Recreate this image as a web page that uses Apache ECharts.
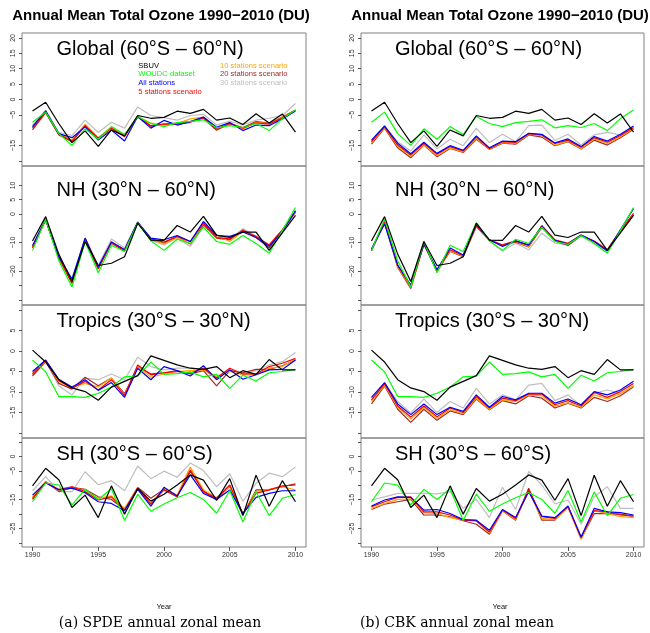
<!DOCTYPE html>
<html><head><meta charset="utf-8">
<script src="https://cdn.jsdelivr.net/npm/echarts@6/dist/echarts.min.js"></script>
<style>html,body{margin:0;padding:0;background:#fff}#c{width:650px;height:633px}</style>
</head><body><div id="c"></div>
<script>
// ---------- data ----------
const YEARS = [1990,1991,1992,1993,1994,1995,1996,1997,1998,1999,2000,2001,2002,2003,2004,2005,2006,2007,2008,2009,2010];
const SERIES_NAMES = ['SBUV','WOUDC dataset','All stations','5 stations scenario','10 stations scenario','20 stations scenario','30 stations scenario'];
const SERIES_COLORS = ['#000000','#00ff00','#0000ff','#ff0000','#ffa500','#a52a2a','#bebebe'];
const X_TICKS = [1990,1995,2000,2005,2010];

// observations (same in both columns)
const G_SBUV  = [-3.7,-0.9,-7.8,-14.0,-10.2,-15.2,-9.9,-11.8,-5.2,-6.1,-5.8,-3.8,-4.5,-3.2,-6.7,-6.0,-8.1,-4.6,-7.6,-4.7,-10.6];
const G_WOUDC = [-7.4,-4.1,-11.1,-14.9,-9.5,-12.9,-8.8,-11.4,-5.5,-7.8,-8.8,-7.5,-7.1,-6.6,-9.2,-8.5,-9.1,-7.8,-10.1,-6.2,-3.4];
const NH_SBUV  = [-9.4,-0.9,-14.0,-23.6,-9.6,-18.0,-17.2,-14.9,-3.2,-9.1,-9.2,-4.0,-6.3,-0.8,-7.4,-8.2,-6.3,-6.3,-12.7,-6.6,-0.5];
const NH_WOUDC = [-12.7,-1.8,-16.3,-25.5,-9.6,-20.5,-10.9,-13.1,-3.0,-9.3,-12.7,-8.8,-10.3,-4.6,-9.6,-10.6,-7.5,-10.3,-13.7,-5.8,2.3];
const TR_SBUV  = [0.2,-2.7,-7.0,-9.0,-9.9,-12.0,-8.8,-7.4,-6.0,-1.2,-2.3,-3.4,-4.2,-4.5,-3.8,-6.5,-4.8,-5.7,-2.1,-4.6,-4.6];
const TR_WOUDC = [-2.2,-5.1,-11.1,-11.1,-11.3,-10.3,-8.8,-6.3,-6.1,-2.7,-5.7,-5.5,-5.1,-6.3,-5.7,-9.1,-5.9,-7.3,-5.3,-5.0,-4.5];
const SH_SBUV  = [-10.2,-4.1,-8.1,-17.7,-13.4,-21.2,-10.2,-20.0,-11.1,-15.5,-13.1,-9.9,-6.4,-8.2,-15.2,-7.7,-20.5,-6.5,-17.3,-8.4,-15.7];
const SH_WOUDC = [-15.7,-9.2,-9.9,-16.8,-11.4,-14.9,-11.2,-22.2,-13.1,-19.0,-16.5,-14.3,-12.5,-14.9,-19.7,-11.8,-22.7,-12.3,-20.5,-14.5,-13.2];

// SPDE
const S_G_ALL = [-8.8,-3.7,-11.1,-12.4,-8.9,-13.2,-9.9,-13.5,-5.5,-9.3,-6.8,-8.3,-7.2,-5.7,-9.0,-7.5,-10.1,-8.3,-8.5,-6.3,-3.7];
const S_G_S5  = [-9.3,-4.1,-11.3,-13.5,-8.5,-12.6,-9.3,-12.1,-5.5,-8.5,-8.0,-8.0,-7.4,-5.9,-9.6,-7.8,-9.3,-7.6,-8.0,-5.9,-3.5];
const S_G_S10 = [-9.1,-3.9,-11.0,-13.2,-8.0,-12.4,-8.9,-11.5,-5.5,-7.7,-8.3,-7.8,-6.3,-5.7,-9.3,-7.4,-9.6,-7.4,-7.8,-5.7,-3.5];
const S_G_S20 = [-9.9,-4.3,-11.5,-13.7,-8.5,-12.8,-9.1,-11.7,-5.7,-8.7,-8.0,-7.7,-7.2,-6.1,-10.0,-7.9,-9.1,-7.2,-7.7,-5.7,-3.4];
const S_G_S30 = [-8.3,-3.5,-10.7,-11.7,-6.7,-10.7,-7.4,-9.3,-2.4,-5.2,-5.9,-6.7,-5.2,-4.8,-8.3,-7.0,-8.3,-6.7,-6.1,-5.2,-1.3];

const S_NH_ALL = [-11.0,-2.0,-14.9,-22.7,-8.4,-18.4,-9.8,-12.5,-2.8,-8.4,-9.0,-7.5,-9.6,-2.6,-7.5,-7.8,-6.3,-8.2,-11.3,-6.1,1.2];
const S_NH_S5  = [-11.7,-2.1,-15.2,-24.2,-8.7,-19.0,-10.2,-12.9,-3.0,-8.7,-9.8,-7.8,-9.6,-3.2,-8.2,-8.7,-5.8,-7.8,-10.8,-5.5,0.9];
const S_NH_S10 = [-11.5,-1.9,-15.4,-23.6,-8.4,-18.7,-9.6,-12.6,-2.9,-8.7,-10.5,-8.2,-10.2,-3.2,-7.5,-9.6,-6.1,-8.2,-10.8,-5.5,0.9];
const S_NH_S20 = [-11.9,-2.0,-15.4,-24.2,-9.0,-19.2,-9.8,-12.5,-3.0,-9.0,-10.2,-7.8,-10.5,-3.7,-8.4,-9.0,-5.6,-8.2,-11.9,-5.8,0.7];
const S_NH_S30 = [-11.3,-1.6,-15.0,-23.6,-8.4,-18.0,-8.7,-11.9,-2.8,-9.1,-10.8,-8.4,-11.3,-4.3,-7.5,-8.7,-5.1,-7.8,-11.7,-5.8,0.7];

const S_TR_ALL = [-5.0,-2.2,-6.9,-8.8,-7.0,-9.6,-7.7,-11.3,-4.2,-7.0,-3.8,-4.8,-6.1,-3.6,-7.0,-4.6,-6.9,-5.8,-4.6,-4.5,-2.2];
const S_TR_S5  = [-5.6,-2.3,-7.2,-9.1,-7.4,-9.5,-7.0,-10.9,-3.4,-5.8,-5.3,-5.0,-5.4,-4.2,-6.6,-4.2,-5.6,-5.6,-3.8,-3.0,-1.8];
const S_TR_S10 = [-5.4,-2.5,-7.4,-8.8,-7.9,-8.8,-6.6,-10.7,-3.8,-6.4,-5.6,-5.0,-4.8,-4.6,-6.2,-5.0,-5.8,-5.8,-4.2,-3.8,-2.0];
const S_TR_S20 = [-6.1,-2.6,-7.9,-9.3,-6.4,-8.5,-6.6,-10.4,-3.8,-5.6,-5.3,-4.8,-5.6,-4.8,-8.5,-4.8,-5.3,-4.5,-4.5,-3.6,-2.2];
const S_TR_S30 = [-5.8,-2.3,-8.5,-10.7,-6.6,-7.0,-5.6,-7.0,-1.5,-3.8,-4.6,-4.2,-4.2,-4.5,-6.9,-4.6,-5.8,-4.8,-3.4,-2.6,-0.4];

const S_SH_ALL = [-13.4,-9.1,-11.6,-11.0,-12.6,-15.7,-16.3,-18.8,-11.4,-17.2,-10.7,-13.7,-6.4,-12.8,-14.9,-11.6,-19.8,-14.2,-12.8,-11.9,-11.9];
const S_SH_S5  = [-14.5,-9.1,-11.4,-10.5,-12.2,-15.1,-14.0,-18.6,-11.0,-16.5,-11.6,-14.0,-4.7,-12.2,-14.5,-9.9,-19.8,-12.8,-11.6,-10.2,-9.9];
const S_SH_S10 = [-14.0,-8.7,-11.9,-10.5,-11.9,-14.5,-13.7,-18.0,-10.8,-16.3,-11.0,-13.4,-3.7,-11.6,-14.2,-10.5,-20.0,-12.2,-11.4,-10.5,-11.6];
const S_SH_S20 = [-14.9,-8.7,-12.2,-10.7,-11.4,-14.0,-14.9,-18.4,-10.7,-14.5,-11.4,-14.0,-5.2,-11.9,-15.1,-10.2,-20.3,-11.6,-11.6,-10.5,-9.5];
const S_SH_S30 = [-11.9,-7.0,-12.2,-12.2,-5.3,-9.8,-8.4,-11.9,-3.3,-7.7,-5.1,-7.2,-2.3,-4.9,-10.5,-6.0,-15.5,-9.3,-5.8,-7.0,-3.7];

// CBK
const C_G_ALL = [-13.2,-8.6,-14.2,-17.6,-13.9,-17.5,-15.0,-16.5,-11.8,-15.7,-13.5,-13.7,-11.0,-11.3,-14.1,-12.8,-15.3,-12.0,-13.5,-11.3,-8.6];
const C_G_S5  = [-13.7,-8.9,-14.8,-18.0,-14.2,-17.8,-15.3,-16.7,-12.2,-15.9,-13.7,-13.9,-11.1,-11.5,-14.3,-13.2,-15.5,-12.4,-13.9,-11.7,-9.1];
const C_G_S10 = [-14.1,-9.1,-15.2,-18.4,-14.6,-18.3,-15.7,-17.0,-12.6,-16.1,-14.0,-14.2,-11.3,-11.7,-14.8,-13.5,-15.9,-12.8,-14.3,-12.1,-9.3];
const C_G_S20 = [-14.5,-9.3,-15.7,-18.9,-14.8,-18.6,-15.9,-17.2,-12.9,-16.2,-14.2,-14.5,-11.5,-12.2,-15.0,-13.7,-16.1,-13.2,-14.8,-12.4,-9.7];
const C_G_S30 = [-13.5,-8.9,-13.7,-16.7,-11.5,-16.1,-12.9,-15.0,-9.3,-14.0,-11.3,-13.7,-8.5,-8.3,-13.3,-11.3,-14.8,-11.5,-10.7,-11.5,-9.3];

const C_NH_ALL = [-12.2,-3.5,-17.8,-24.8,-10.5,-19.5,-11.9,-14.3,-3.7,-9.0,-11.3,-9.4,-10.8,-4.3,-9.2,-10.5,-7.3,-9.6,-12.9,-5.5,1.9];
const C_NH_S5  = [-12.5,-2.6,-18.0,-25.4,-10.5,-19.9,-12.5,-14.5,-4.0,-9.0,-10.8,-9.4,-11.0,-4.0,-9.0,-10.2,-7.3,-9.4,-12.5,-5.8,0.2];
const C_NH_S10 = [-12.5,-2.6,-18.4,-25.7,-10.5,-19.9,-12.9,-14.7,-4.2,-9.1,-11.0,-9.6,-11.3,-4.3,-9.2,-10.5,-7.5,-9.6,-12.5,-5.8,0.0];
const C_NH_S20 = [-12.9,-2.8,-18.7,-26.0,-10.5,-20.1,-13.1,-14.9,-4.4,-9.1,-10.8,-9.8,-11.5,-4.7,-9.4,-11.0,-7.5,-9.6,-12.5,-5.8,-0.2];
const C_NH_S30 = [-12.5,-3.2,-17.8,-26.2,-10.5,-19.2,-12.9,-14.9,-4.4,-9.4,-12.9,-10.2,-12.5,-6.7,-10.2,-10.8,-7.8,-10.2,-12.9,-6.1,-0.2];

const C_TR_ALL = [-11.3,-7.7,-12.9,-15.5,-12.9,-15.5,-13.7,-14.7,-10.7,-13.7,-11.1,-11.9,-10.3,-10.3,-12.7,-11.7,-13.1,-9.9,-10.7,-9.5,-7.4];
const C_TR_S5  = [-11.9,-8.0,-13.4,-16.1,-13.4,-16.0,-13.9,-15.0,-11.1,-13.9,-11.5,-12.1,-10.5,-10.5,-13.1,-12.1,-13.4,-10.1,-11.3,-9.9,-7.9];
const C_TR_S10 = [-12.3,-8.3,-13.7,-16.6,-13.7,-16.4,-14.3,-15.3,-11.5,-14.2,-11.9,-12.3,-10.7,-10.9,-13.5,-12.6,-13.7,-10.7,-11.7,-10.4,-8.5];
const C_TR_S20 = [-12.9,-8.5,-14.2,-17.4,-14.2,-16.9,-14.6,-15.5,-11.7,-14.3,-12.1,-12.9,-10.9,-11.5,-13.9,-12.7,-13.9,-11.3,-12.3,-10.9,-8.7];
const C_TR_S30 = [-11.5,-7.9,-12.3,-15.1,-11.7,-15.0,-12.3,-13.9,-9.1,-12.9,-10.7,-11.9,-8.3,-7.9,-12.1,-10.7,-13.4,-10.3,-9.5,-10.3,-8.5];

const C_SH_ALL = [-17.2,-15.1,-14.0,-14.2,-18.6,-18.4,-19.8,-21.9,-22.1,-25.6,-18.4,-21.2,-12.2,-20.7,-21.2,-17.2,-27.9,-18.0,-19.2,-19.5,-20.3];
const C_SH_S5  = [-17.4,-15.7,-14.2,-14.0,-19.2,-19.2,-20.3,-22.1,-22.3,-26.2,-18.6,-21.5,-11.4,-20.9,-21.5,-17.4,-28.1,-18.8,-19.2,-20.3,-20.7];
const C_SH_S10 = [-18.0,-16.3,-14.9,-14.7,-19.5,-19.8,-21.2,-22.1,-22.4,-26.5,-18.8,-21.9,-11.9,-21.5,-21.9,-17.7,-28.8,-18.8,-19.8,-20.9,-21.2];
const C_SH_S20 = [-18.4,-16.5,-15.7,-14.9,-20.3,-20.3,-20.9,-22.3,-23.5,-27.0,-18.8,-22.1,-11.0,-22.1,-22.1,-17.4,-28.5,-19.8,-19.8,-20.0,-20.7];
const C_SH_S30 = [-15.1,-14.0,-12.8,-12.8,-12.8,-13.0,-12.2,-18.0,-14.9,-21.2,-10.7,-18.4,-5.2,-9.9,-16.5,-15.1,-23.5,-14.0,-10.5,-18.0,-18.0];

// panel definitions: region label, y tick values, y label values
const REGION_LABELS = ['Global (60°S – 60°N)','NH (30°N – 60°N)','Tropics (30°S – 30°N)','SH (30°S – 60°S)'];
const Y_TICKS = [
  [-20,-15,-10,-5,0,5,10,15,20],
  [-30,-25,-20,-15,-10,-5,0,5,10],
  [-20,-15,-10,-5,0,5,10],
  [-30,-25,-20,-15,-10,-5,0,5]
];
const Y_LABELS = [
  [-15,-5,0,5,10,15,20],
  [-20,-10,0,5,10],
  [-15,-10,-5,0,5],
  [-25,-15,-5,0]
];
const Y_RANGE = [[-21.6,21.6],[-31.8,16.8],[-21.2,11.2],[-31.4,6.4]];

const PANELS = [
  [[G_SBUV,G_WOUDC,S_G_ALL,S_G_S5,S_G_S10,S_G_S20,S_G_S30],
   [NH_SBUV,NH_WOUDC,S_NH_ALL,S_NH_S5,S_NH_S10,S_NH_S20,S_NH_S30],
   [TR_SBUV,TR_WOUDC,S_TR_ALL,S_TR_S5,S_TR_S10,S_TR_S20,S_TR_S30],
   [SH_SBUV,SH_WOUDC,S_SH_ALL,S_SH_S5,S_SH_S10,S_SH_S20,S_SH_S30]],
  [[G_SBUV,G_WOUDC,C_G_ALL,C_G_S5,C_G_S10,C_G_S20,C_G_S30],
   [NH_SBUV,NH_WOUDC,C_NH_ALL,C_NH_S5,C_NH_S10,C_NH_S20,C_NH_S30],
   [TR_SBUV,TR_WOUDC,C_TR_ALL,C_TR_S5,C_TR_S10,C_TR_S20,C_TR_S30],
   [SH_SBUV,SH_WOUDC,C_SH_ALL,C_SH_S5,C_SH_S10,C_SH_S20,C_SH_S30]]
];

// ---------- layout ----------
const COL_LEFT = [22, 361];
const COL_WIDTH = [284, 283];
const ROW_TOP = [33, 166, 305, 438];
const ROW_HEIGHT = [133, 139, 133, 109];
const LABEL_Y = [49, 190, 321, 454.5];
const FONT = '"Liberation Sans", Arial, Helvetica, sans-serif';
const SERIF = '"DejaVu Serif", "Liberation Serif", serif';
const minus = v => (v < 0 ? '\u2212' + Math.abs(v) : String(v));

const grid = [], xAxis = [], yAxis = [], series = [], graphic = [];
const drawOrder = [6,5,4,3,2,1,0];

for (let c = 0; c < 2; c++) {
  for (let r = 0; r < 4; r++) {
    const idx = grid.length;
    grid.push({left: COL_LEFT[c], top: ROW_TOP[r], width: COL_WIDTH[c], height: ROW_HEIGHT[r],
      show: true, borderColor: '#808080', borderWidth: 1, backgroundColor: 'transparent', containLabel: false});
    const bottom = r === 3;
    xAxis.push({type: 'value', gridIndex: idx, min: 1989.2, max: 2010.8, position: 'bottom',
      axisLine: {show: false, onZero: false}, splitLine: {show: false},
      axisTick: {show: bottom, customValues: X_TICKS, length: 4, lineStyle: {color: '#555', width: 1}},
      axisLabel: {show: bottom, customValues: X_TICKS, fontSize: 7, color: '#333', margin: 5, fontFamily: FONT,
        formatter: v => String(v)}
    });
    yAxis.push({type: 'value', gridIndex: idx, min: Y_RANGE[r][0], max: Y_RANGE[r][1], position: 'left',
      axisLine: {show: false, onZero: false}, splitLine: {show: false},
      axisTick: {show: true, customValues: Y_TICKS[r], length: 3, lineStyle: {color: '#555', width: 1}},
      axisLabel: {show: true, customValues: Y_LABELS[r], rotate: 90, fontSize: 7, color: '#333', margin: 5, fontFamily: FONT,
        formatter: v => minus(v)}
    });
    for (const s of drawOrder) {
      const vals = PANELS[c][r][s];
      series.push({type: 'line', name: SERIES_NAMES[s], xAxisIndex: idx, yAxisIndex: idx,
        data: YEARS.map((y, i) => [y, vals[i]]), showSymbol: false, symbol: 'none',
        lineStyle: {color: SERIES_COLORS[s], width: 1.2}, itemStyle: {color: SERIES_COLORS[s]},
        animation: false, silent: true, z: 2});
    }
    graphic.push({type: 'text', x: COL_LEFT[c] + (c === 0 ? 34.5 : 34), y: LABEL_Y[r],
      style: {text: REGION_LABELS[r], font: '20px ' + FONT, fill: '#000', align: 'left', verticalAlign: 'middle'}, z: 10});
  }
}

const TITLE = 'Annual Mean Total Ozone 1990\u22122010 (DU)';
graphic.push({type: 'text', x: 161, y: 16, style: {text: TITLE, font: 'bold 15px ' + FONT, fill: '#000', align: 'center', verticalAlign: 'middle'}});
graphic.push({type: 'text', x: 500, y: 16, style: {text: TITLE, font: 'bold 15px ' + FONT, fill: '#000', align: 'center', verticalAlign: 'middle'}});
graphic.push({type: 'text', x: 164, y: 607, style: {text: 'Year', font: '7.5px ' + FONT, fill: '#111', align: 'center', verticalAlign: 'middle'}});
graphic.push({type: 'text', x: 500, y: 607, style: {text: 'Year', font: '7.5px ' + FONT, fill: '#111', align: 'center', verticalAlign: 'middle'}});
graphic.push({type: 'text', x: 160, y: 623, style: {text: '(a) SPDE annual zonal mean', font: '14px ' + SERIF, fill: '#000', align: 'center', verticalAlign: 'middle'}});
graphic.push({type: 'text', x: 457, y: 623, style: {text: '(b) CBK annual zonal mean', font: '14px ' + SERIF, fill: '#000', align: 'center', verticalAlign: 'middle'}});

const legendItem = i => ({name: SERIES_NAMES[i], icon: 'none', textStyle: {color: SERIES_COLORS[i]}});
const legendBase = {orient: 'vertical', itemWidth: 0, itemHeight: 8.7, itemGap: 0, padding: 0, selectedMode: false,
  textStyle: {fontSize: 7.6, lineHeight: 8.7, fontFamily: FONT, padding: 0}};
const legend = [
  Object.assign({}, legendBase, {left: 133.3, top: 61.3, data: [0,1,2,3].map(legendItem)}),
  Object.assign({}, legendBase, {left: 215, top: 61.3, data: [4,5,6].map(legendItem)})
];

const chart = echarts.init(document.getElementById('c'));
chart.setOption({animation: false, backgroundColor: '#fff', grid, xAxis, yAxis, series, legend, graphic});
</script></body></html>
